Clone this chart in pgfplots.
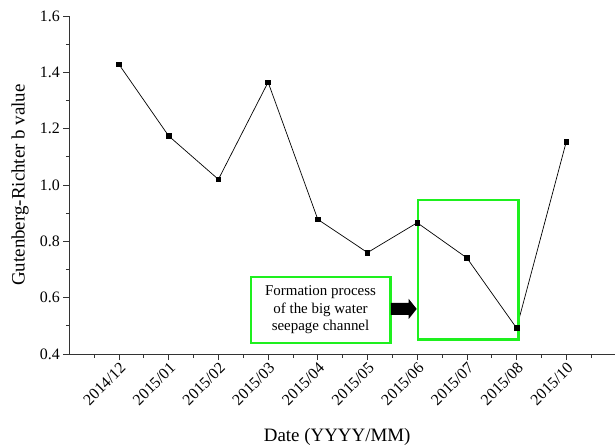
\documentclass[border=0pt]{standalone}
\usepackage{pgfplots}
\pgfplotsset{compat=1.18}
\usepackage{fontspec}
\setmainfont{Liberation Serif}
\definecolor{boxgreen}{RGB}{30,240,30}
\begin{document}
\begin{tikzpicture}
\path[use as bounding box] (0,0) rectangle (615bp,448bp);
\begin{axis}[
  at={(69.3bp,94bp)}, anchor=south west,
  scale only axis, width=545.7bp, height=338bp,
  xmin=-1, xmax=9.98, ymin=0.4, ymax=1.6,
  axis x line=bottom, axis y line=left,
  axis line style={-, line width=0.8pt, black!80},
  xtick={0,...,9},
  xticklabels={2014/12,2015/01,2015/02,2015/03,2015/04,2015/05,2015/06,2015/07,2015/08,2015/10},
  minor xtick={-0.5,0.5,...,9.5},
  ytick={0.4,0.6,...,1.6},
  minor ytick={0.5,0.7,...,1.5},
  yticklabel style={/pgf/number format/.cd, fixed, fixed zerofill, precision=1},
  /pgf/number format/assume math mode=true,
  tick align=outside,
  major tick length=6bp, minor tick length=3.5bp,
  tick style={black!80, line width=0.8pt},
  tick label style={font=\fontsize{16}{18}\selectfont},
  xticklabel style={rotate=45, anchor=north east, inner sep=1pt},
  ylabel={Gutenberg-Richter b value},
  xlabel={Date (YYYY/MM)},
  label style={font=\fontsize{19}{21}\selectfont},
  ylabel style={at={(axis description cs:-0.09,0.5)}, anchor=center},
  xlabel style={at={(axis description cs:0.491,-0.246)}, anchor=center},
  clip=false,
]
\addplot[black, line width=0.7pt, mark=square*, mark size=2.3bp] coordinates {
(0,1.428) (1,1.174) (2,1.02) (3,1.365) (4,0.878) (5,0.76) (6,0.866) (7,0.741) (8,0.492) (9,1.154)
};
\draw[boxgreen, line width=2.4pt] (axis cs:6.01,0.947) rectangle (axis cs:8.04,0.452);
\draw[boxgreen, line width=2.4pt] (axis cs:2.65,0.673) rectangle (axis cs:5.46,0.439);
\node[align=center, font=\fontsize{15}{17.5}\selectfont, inner sep=0pt] at (axis cs:4.055,0.556) {Formation process\\of the big water\\seepage channel};
\fill[black] (axis cs:5.47,0.5813) -- (axis cs:5.83,0.5813) -- (axis cs:5.83,0.5955) -- (axis cs:5.99,0.56) -- (axis cs:5.83,0.5245) -- (axis cs:5.83,0.5387) -- (axis cs:5.47,0.5387) -- cycle;
\end{axis}
\end{tikzpicture}
\end{document}
